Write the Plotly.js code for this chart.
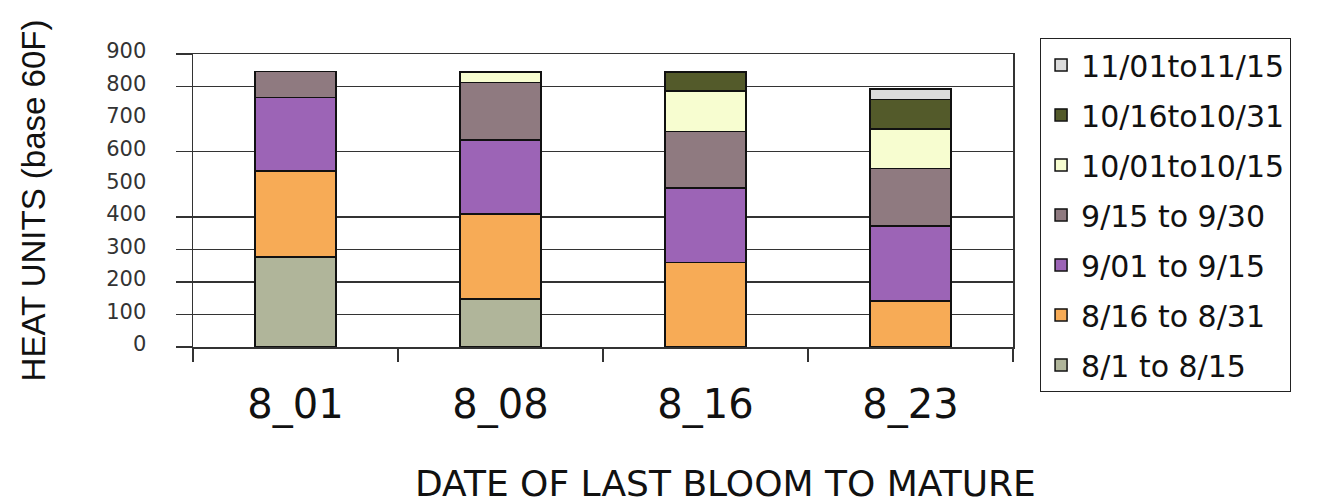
<!DOCTYPE html>
<html>
<head>
<meta charset="utf-8">
<script src="https://cdn.plot.ly/plotly-3.0.1.min.js"></script>
<style>html,body{margin:0;padding:0;background:#fff;}#chart{width:1324px;height:503px;}</style>
</head>
<body>
<div id="chart"></div>
<script>
// ---- data ----
const categories = ['8_01', '8_08', '8_16', '8_23'];
const seriesNames = ['8/1 to 8/15', '8/16 to 8/31', '9/01 to 9/15', '9/15 to 9/30',
                     '10/01to10/15', '10/16to10/31', '11/01to11/15'];
const aug01_15 = [277, 147, null, null];
const aug16_31 = [264, 261, 260, 142];
const sep01_15 = [225, 228, 229, 229];
const sep15_30 = [81, 176, 173, 178];
const oct01_15 = [null, 32, 124, 120];
const oct16_31 = [null, null, 58, 92];
const nov01_15 = [null, null, null, 31];
const yTickVals = [0, 100, 200, 300, 400, 500, 600, 700, 800, 900];
const gridVals = [0, 100, 200, 300, 400, 600, 800, 900];

const seriesValues = [aug01_15, aug16_31, sep01_15, sep15_30, oct01_15, oct16_31, nov01_15];
const colors = ['#b0b59a', '#f7ab56', '#9c64b6', '#8f7a80', '#f7fdd0', '#535a2a', '#dcdcdc'];

const traces = seriesValues.map((vals, i) => ({
  type: 'bar',
  name: seriesNames[i],
  legendgroup: 'g' + i,
  legendrank: 1000 - i,
  x: categories,
  y: vals,
  xaxis: 'x',
  yaxis: 'y',
  marker: { color: colors[i], line: { color: '#111', width: 1.5 } },
  hoverinfo: 'name+y'
}));
// empty helper trace so the grid axis is drawn
traces.push({
  type: 'scatter', mode: 'markers', x: categories, y: [null, null, null, null],
  xaxis: 'x', yaxis: 'y2', showlegend: false, hoverinfo: 'skip'
});

const layout = {
  width: 1324,
  height: 503,
  margin: { l: 193, r: 311, t: 54, b: 156 },
  paper_bgcolor: '#ffffff',
  plot_bgcolor: '#ffffff',
  barmode: 'stack',
  bargap: 0.605,
  showlegend: true,
  legend: {
    x: 1.033, xanchor: 'left', y: 1.055, yanchor: 'top',
    traceorder: 'grouped',
    tracegroupgap: 8,
    maxheight: 440,
    bgcolor: '#ffffff', bordercolor: '#222', borderwidth: 1,
    font: { family: 'DejaVu Sans', size: 30, color: '#111' }
  },
  xaxis: {
    type: 'category',
    tickson: 'boundaries',
    ticks: 'outside', ticklen: 13, tickcolor: '#333', tickwidth: 1.5,
    showline: true, linecolor: '#333', linewidth: 1.5, mirror: true,
    showgrid: false,
    ticklabelstandoff: 21,
    tickfont: { family: 'DejaVu Sans', size: 40, color: '#111' }
  },
  yaxis: {
    range: [0, 900],
    tickvals: yTickVals,
    ticks: '',
    showgrid: false,
    zeroline: false,
    showline: true, linecolor: '#333', linewidth: 1.5, mirror: true,
    ticklabelstandoff: 41,
    ticklabelshift: -3,
    tickfont: { family: 'DejaVu Sans', size: 21, color: '#333' },
    title: { text: 'HEAT UNITS (base 60F)', standoff: 50,
             font: { family: 'Liberation Sans', size: 33, color: '#111' } }
  },
  yaxis2: {
    overlaying: 'y',
    side: 'left',
    range: [0, 900],
    tickvals: gridVals,
    showticklabels: false,
    ticks: 'outside', ticklen: 16, tickcolor: '#333', tickwidth: 1.5,
    showgrid: true, gridcolor: '#333', gridwidth: 1.5,
    zeroline: false,
    showline: false
  },
  annotations: [{
    text: 'DATE OF LAST BLOOM TO MATURE',
    xref: 'paper', yref: 'paper',
    x: (725 - 193) / 820, y: (347 - 483) / 293,
    xanchor: 'center', yanchor: 'middle',
    showarrow: false,
    font: { family: 'DejaVu Sans', size: 36, color: '#111' }
  }]
};

Plotly.newPlot('chart', traces, layout, { displayModeBar: false, staticPlot: true });
</script>
</body>
</html>
